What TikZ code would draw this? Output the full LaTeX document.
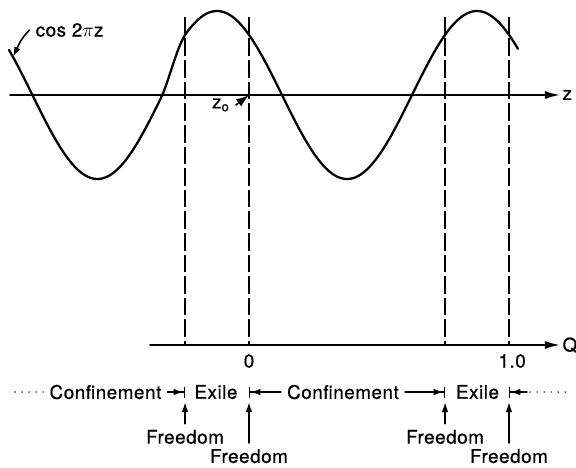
\documentclass[tikz,border=0pt]{standalone}
\usepackage{fontspec}
\setmainfont{TeX Gyre Heros}[FakeBold=0.7,LetterSpace=3]
\usetikzlibrary{arrows.meta}
\begin{document}
\begin{tikzpicture}[x=5.2cm,y=1.68cm,declare function={t(\x)=max(-1,min(1,(\x+0.29)/0.05));d(\x)=0.02*(1-t(\x)*(3-t(\x)*t(\x))/2);f(\x)=cos(360*(\x-d(\x)+0.123));},line join=round,line cap=round,>={Latex[length=2mm,width=1.3mm]},font=\fontsize{10.7}{12}\selectfont,scale=1,
	axis/.style={line width=1pt,-{Latex[length=3mm,width=1.6mm]}},
	guide/.style={line width=0.9pt,line cap=butt,dash pattern=on 10pt off 2.3pt},
	barred/.style={line width=0.8pt,-{Latex[length=2mm,width=1.3mm,sep=0pt]Bar[width=2.2mm]}},
	dotline/.style={line width=0.9pt,dash pattern=on 0pt off 4pt}]
	\useasboundingbox (-0.9577,-4.44) rectangle (1.2577,1.131);
	% axes
	\draw[axis] (-0.919,0) -- (1.196,0) node[right,inner sep=1pt] (zlab) {z};
	\draw[axis] (-0.381,-2.976) -- (1.196,-2.976) node[right,inner sep=1pt] (qlab) {Q};
	\node (q0) at (0,-3.167) {0};
	\node (q1) at (1.012,-3.167) {1.0};
	% wave
	\draw[line width=1.3pt,smooth,domain=-0.923:1.038,samples=300] plot (\x,{f(\x)});
	\coordinate (tip) at (-0.9077,{f(-0.9077)});
	\node (cos) at (-0.69,0.774) {cos 2$\pi$z};
	\draw[->,line width=0.9pt] (cos.west) to[out=225,in=65] (tip);
	\coordinate (z0) at (0,0);
	\node (zo) at (-0.108,-0.119) {z\textsubscript{o}};
	\draw[-{Latex[length=2.6mm,width=1.8mm]},line width=0.9pt] (zo.east) -- (z0);
	\foreach \q in {-0.246,0,0.754,1}
		\draw[guide] (\q,0.93) -- (\q,-2.976);
	% regions
	\node (conf1) at (-0.552,-3.536) {Confinement};
	\node (ex1) at (-0.127,-3.536) {Exile};
	\node (conf2) at (0.3615,-3.536) {Confinement};
	\node (ex2) at (0.879,-3.536) {Exile};
	\coordinate (b1) at (-0.246,-3.536);
	\coordinate (b2) at (0,-3.536);
	\coordinate (b3) at (0.754,-3.536);
	\coordinate (b4) at (1,-3.536);
	\coordinate (r) at (1.069,-3.536);
	\draw[dotline] (-0.9,-3.536) -- (conf1.west);
	\draw[dotline] (1.081,-3.536) -- (1.235,-3.536);
	\draw[barred] (conf1.east) -- (b1);
	\draw[barred] (conf2.west) -- (b2);
	\draw[barred] (conf2.east) -- (b3);
	\draw[barred] (r) -- (b4);
	% freedom
	\node (fr1) at (-0.246,-4.071) {Freedom};
	\node (fr2) at (0,-4.30) {Freedom};
	\node (fr3) at (0.754,-4.071) {Freedom};
	\node (fr4) at (1,-4.30) {Freedom};
	\draw[->,line width=0.9pt] (fr1) -- (-0.246,-3.655);
	\draw[->,line width=0.9pt] (fr2) -- (0,-3.655);
	\draw[->,line width=0.9pt] (fr3) -- (0.754,-3.655);
	\draw[->,line width=0.9pt] (fr4) -- (1,-3.655);
\end{tikzpicture}
\end{document}
